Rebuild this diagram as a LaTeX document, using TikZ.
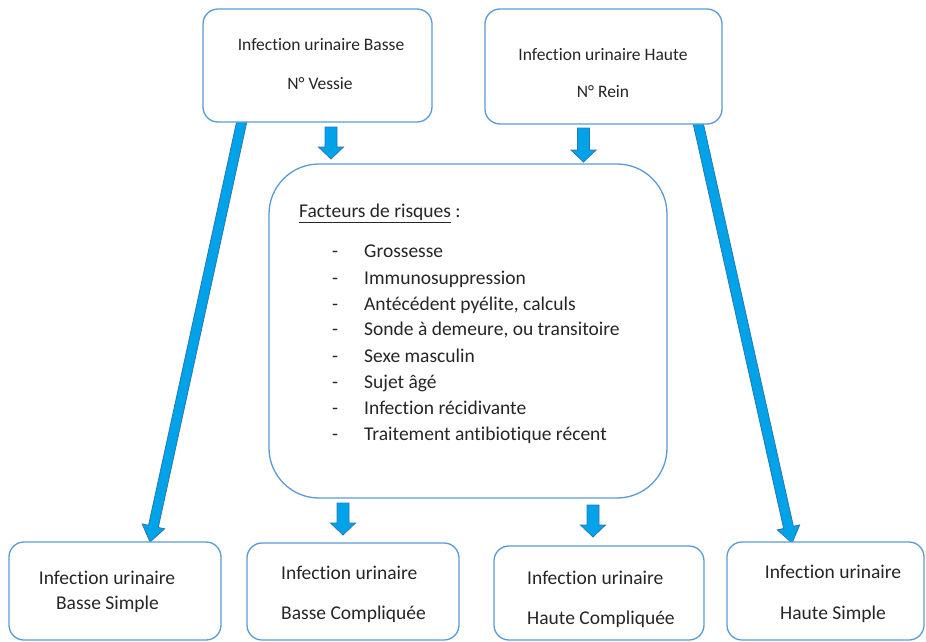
\documentclass[tikz,border=0pt]{standalone}
\usepackage{fontspec}
\setmainfont[RawFeature={-liga}]{Carlito}
\usetikzlibrary{calc}
\definecolor{boxline}{RGB}{91,155,213}
\definecolor{arrfill}{RGB}{0,162,232}
\definecolor{arrline}{RGB}{46,117,182}
\definecolor{txt}{RGB}{38,38,38}
\tikzset{
  box/.style={draw=boxline, line width=1.3pt, rounded corners=15pt, fill=white, inner sep=0pt},
  bigbox/.style={box, rounded corners=50pt},
  barr/.style={fill=arrfill, draw=arrline, line width=0.8pt, line join=miter},
  ttxt/.style={text=txt, font=\fontsize{17.5}{20}\selectfont, inner sep=0pt},
  btxt/.style={text=txt, font=\fontsize{19.5}{23}\selectfont, inner sep=0pt},
}
\newcommand{\blockarr}[5]{% start, end, half shaft, half head, head length
  \coordinate (ah) at ($(#2)!#5!(#1)$);
  \draw[barr] ($(#1)!#3!90:(#2)$) -- ($(ah)!#3!90:(#2)$) -- ($(ah)!#4!90:(#2)$) -- (#2)
    -- ($(ah)!#4!-90:(#2)$) -- ($(ah)!#3!-90:(#2)$) -- ($(#1)!#3!-90:(#2)$) -- cycle;
}
\begin{document}
\begin{tikzpicture}[x=1pt,y=-1pt]
\useasboundingbox (0,0) rectangle (926,642);
\clip (0,0) rectangle (926,642);
% arrow end points
\coordinate (a1s) at (331,127);   \coordinate (a1e) at (331,159);
\coordinate (a2s) at (583.5,128); \coordinate (a2e) at (583.5,162);
\coordinate (a3s) at (343,503);   \coordinate (a3e) at (343,535);
\coordinate (a4s) at (593,505);   \coordinate (a4e) at (593,537);
\coordinate (l1s) at (243,116);   \coordinate (l1e) at (150,542);
\coordinate (l2s) at (697,118);   \coordinate (l2e) at (792,543);
% arrows
\blockarr{l1s}{l1e}{5pt}{11.5pt}{16pt}
\blockarr{l2s}{l2e}{5pt}{11.5pt}{16pt}
\blockarr{a1s}{a1e}{6pt}{12.5pt}{12pt}
\blockarr{a2s}{a2e}{6pt}{12.5pt}{12pt}
\blockarr{a3s}{a3e}{6pt}{12.5pt}{12pt}
\blockarr{a4s}{a4e}{6pt}{12.5pt}{12pt}
% boxes
\node[box, minimum width=229pt, minimum height=113pt] (tl) at (317.5,65.5) {};
\node[box, minimum width=237pt, minimum height=115pt] (tr) at (603.5,66.5) {};
\node[bigbox, minimum width=398pt, minimum height=334pt] (rf) at (468,331) {};
\node[box, minimum width=212pt, minimum height=98pt] (b1) at (115,591) {};
\node[box, minimum width=212pt, minimum height=97pt] (b2) at (353,591.5) {};
\node[box, minimum width=210pt, minimum height=94pt] (b3) at (599,593) {};
\node[box, minimum width=197pt, minimum height=98pt] (b4) at (825.5,591) {};
% top texts
\node[ttxt, anchor=mid] (tl1) at (321,48.5) {Infection urinaire Basse};
\node[ttxt, anchor=mid] (tl2) at (320,87.5) {N° Vessie};
\node[ttxt, anchor=mid] (tr1) at (603,58.5) {Infection urinaire Haute};
\node[ttxt, anchor=mid] (tr2) at (603,95.5) {N° Rein};
% risk factors
\node[btxt, anchor=mid west] (rft) at (299,215.5) {\underline{Facteurs de risques} :};
\foreach \i/\y/\t in {1/250/Grossesse, 2/277/Immunosuppression, 3/303/{Antécédent pyélite, calculs},
  4/328/{Sonde à demeure, ou transitoire}, 5/355/Sexe masculin, 6/381/Sujet âgé,
  7/407/Infection récidivante, 8/433/Traitement antibiotique récent}{
  \node[btxt, anchor=mid west] (d\i) at (332,\y+5.5) {-};
  \node[btxt, anchor=mid west] (f\i) at (364,\y+5.5) {\t};
}
% bottom texts
\node[btxt, anchor=mid] (b1a) at (107,582.5) {Infection urinaire};
\node[btxt, anchor=mid] (b1b) at (107.5,607.5) {Basse Simple};
\node[btxt, anchor=mid west] (b2a) at (281,577.5) {Infection urinaire};
\node[btxt, anchor=mid west] (b2b) at (281,617.5) {Basse Compliquée};
\node[btxt, anchor=mid west] (b3a) at (527,582.5) {Infection urinaire};
\node[btxt, anchor=mid west] (b3b) at (527,622.5) {Haute Compliquée};
\node[btxt, anchor=mid] (b4a) at (833,576.5) {Infection urinaire};
\node[btxt, anchor=mid] (b4b) at (833,617.5) {Haute Simple};
\end{tikzpicture}
\end{document}
